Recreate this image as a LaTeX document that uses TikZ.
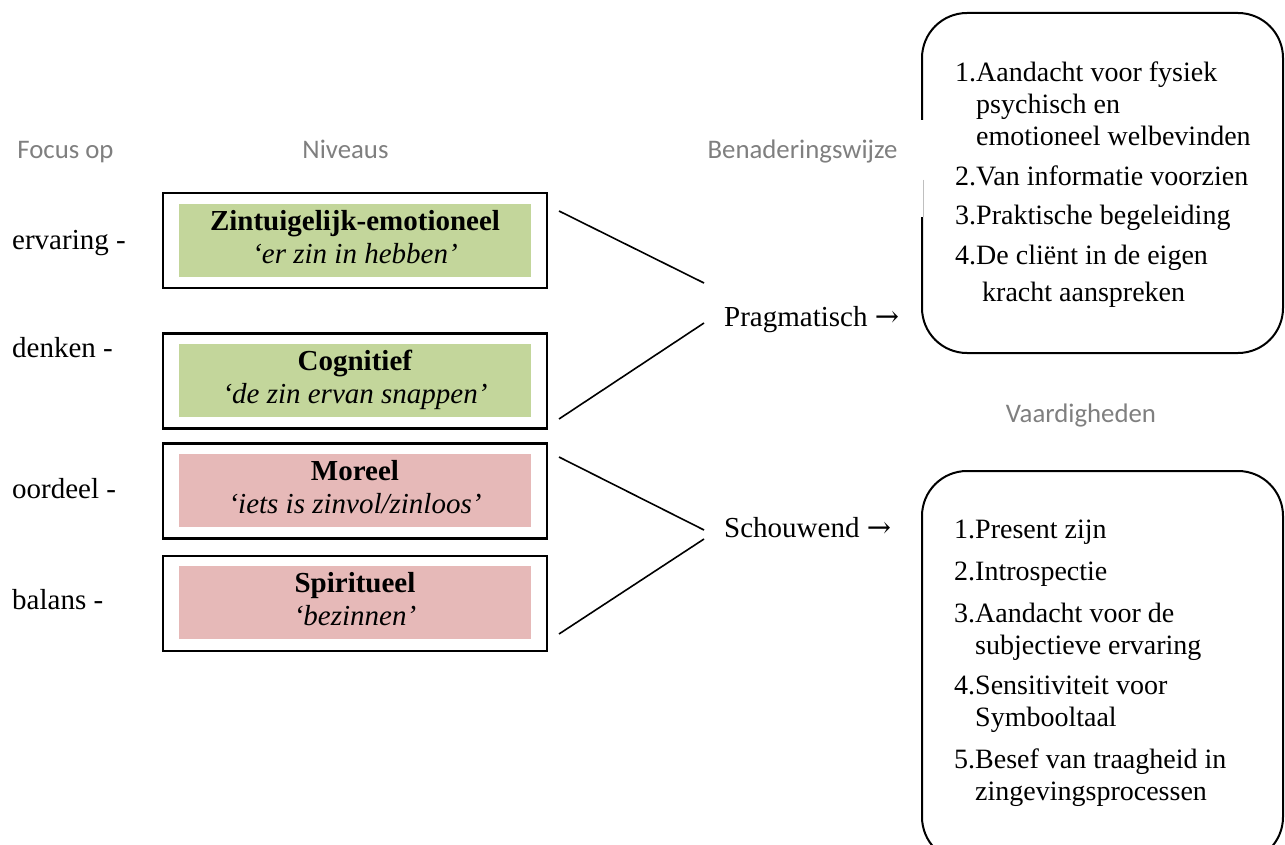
\documentclass[tikz,border=0pt]{standalone}
\usepackage{fontspec}
\setmainfont{Liberation Serif}
\newfontfamily\calfont{Carlito}
\newfontfamily\arrowfont{DejaVu Serif}
\usetikzlibrary{calc}
\definecolor{lvgreen}{HTML}{C3D69B}
\definecolor{lvpink}{HTML}{E6B9B8}
\definecolor{lblgray}{HTML}{7F7F7F}
\newcommand\lvstrut{\rule[-7pt]{0pt}{27pt}}
\newcommand\rarr{{\arrowfont →}}
\begin{document}
\begin{tikzpicture}[x=1pt,y=-1pt,
  hdr/.style={font=\calfont\fontsize{26.8}{30}\selectfont, text=lblgray, inner sep=0pt, anchor=base},
  focus/.style={font=\fontsize{29}{32}\selectfont, anchor=base west, inner sep=0pt},
  levelbox/.style={draw, line width=2.2pt, minimum width=384pt, minimum height=95pt, inner sep=0pt},
  levelfill/.style={minimum width=352pt, minimum height=73pt, inner sep=0pt, align=center,
    font=\fontsize{29}{33}\selectfont},
  connector/.style={line width=1.6pt},
  approach/.style={font=\fontsize{29}{32}\selectfont, anchor=base west, inner sep=0pt},
  listbox/.style={draw, line width=2pt, rounded corners=45pt, inner sep=0pt},
  listitem/.style={font=\fontsize{28}{32}\selectfont, anchor=base west, inner sep=0pt},
]
\useasboundingbox (0,0) rectangle (1285,845);

% column headers
\node[hdr] (hfocus) at (65.5,159) {Focus op};
\node[hdr] (hniv) at (345.5,159) {Niveaus};
\node[hdr] (hben) at (802.5,159) {Benaderingswijze};
\node[hdr] (hvaa) at (1081,422) {Vaardigheden};

% focus labels
\node[focus] (f1) at (12,249) {ervaring -};
\node[focus] (f2) at (12,357) {denken -};
\node[focus] (f3) at (12,498) {oordeel -};
\node[focus] (f4) at (12,609) {balans -};

% level boxes
\node[levelbox] (b1) at (355,240.5) {};
\node[levelbox] (b2) at (355,381) {};
\node[levelbox] (b3) at (355,491) {};
\node[levelbox] (b4) at (355,603.5) {};
\node[levelfill, fill=lvgreen] (l1) at (355,240.5) {\lvstrut\textbf{Zintuigelijk-emotioneel}\\\lvstrut\textit{‘er zin in hebben’}};
\node[levelfill, fill=lvgreen] (l2) at (355,380.5) {\lvstrut\textbf{Cognitief}\\\lvstrut\textit{‘de zin ervan snappen’}};
\node[levelfill, fill=lvpink] (l3) at (355,490.5) {\lvstrut\textbf{Moreel}\\\lvstrut\textit{‘iets is zinvol/zinloos’}};
\node[levelfill, fill=lvpink] (l4) at (355,602.5) {\lvstrut\textbf{Spiritueel}\\\lvstrut\textit{‘bezinnen’}};

% approaches
\node[approach] (prag) at (724,326) {Pragmatisch \rarr};
\node[approach] (scho) at (724,537) {Schouwend \rarr};

% connector ends
\coordinate (s1) at (559,211);
\coordinate (s2) at (559,419);
\coordinate (s3) at (559,457);
\coordinate (s4) at (559,634);
\coordinate (e1) at (704,283);
\coordinate (e2) at (704,323);
\coordinate (e3) at (704,530);
\coordinate (e4) at (704,539);
\draw[connector] (s1) -- (e1);
\draw[connector] (s2) -- (e2);
\draw[connector] (s3) -- (e3);
\draw[connector] (s4) -- (e4);

% list boxes
\node[listbox, minimum width=361pt, minimum height=340pt] (lp) at (1102.5,183) {};
\fill[white] (915,120) rectangle (929,217);
\draw[lblgray!50, line width=0.6pt] (923.5,180) -- (923.5,217);
\node[listbox, minimum width=361pt, minimum height=391pt] (ls) at (1102.5,666.5) {};

% pragmatic list
\node[listitem] (p1) at (955,82) {1.\begin{tabular}[t]{@{}l@{}}Aandacht voor fysiek\\psychisch en\\emotioneel welbevinden\end{tabular}};
\node[listitem] (p2) at (955,186) {2.Van informatie voorzien};
\node[listitem] (p3) at (955,225) {3.Praktische begeleiding};
\node[listitem] (p4) at (955,265) {4.\begin{tabular}[t]{@{}l@{}}De cliënt in de eigen\\[4pt]\hspace{6pt}kracht aanspreken\end{tabular}};

% contemplative list
\node[listitem] (c1) at (954,538) {1.Present zijn};
\node[listitem] (c2) at (954,580) {2.Introspectie};
\node[listitem] (c3) at (954,622) {3.\begin{tabular}[t]{@{}l@{}}Aandacht voor de\\subjectieve ervaring\end{tabular}};
\node[listitem] (c4) at (954,694) {4.\begin{tabular}[t]{@{}l@{}}Sensitiviteit voor\\Symbooltaal\end{tabular}};
\node[listitem] (c5) at (954,768) {5.\begin{tabular}[t]{@{}l@{}}Besef van traagheid in\\zingevingsprocessen\end{tabular}};
\end{tikzpicture}
\end{document}
